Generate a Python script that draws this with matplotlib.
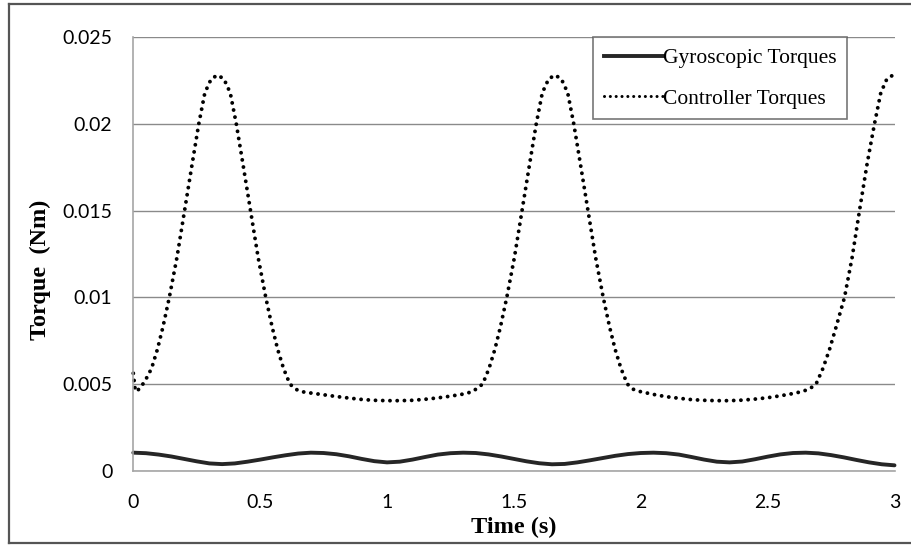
import matplotlib
matplotlib.use("Agg")
import matplotlib.pyplot as plt
from matplotlib.lines import Line2D

# ---- data ----
gyro_t = [0.00, 0.05, 0.10, 0.15, 0.20, 0.25, 0.30, 0.35, 0.40, 0.45,
          0.50, 0.55, 0.60, 0.65, 0.70, 0.75, 0.80, 0.85, 0.90, 0.95,
          1.00, 1.05, 1.10, 1.15, 1.20, 1.25, 1.30, 1.35, 1.40, 1.45,
          1.50, 1.55, 1.60, 1.65, 1.70, 1.75, 1.80, 1.85, 1.90, 1.95,
          2.00, 2.05, 2.10, 2.15, 2.20, 2.25, 2.30, 2.35, 2.40, 2.45,
          2.50, 2.55, 2.60, 2.65, 2.70, 2.75, 2.80, 2.85, 2.90, 2.95, 3.00]
gyro_v = [0.00104, 0.00101, 0.00093, 0.00082, 0.00068, 0.00054, 0.00042, 0.00038, 0.00042, 0.00052,
          0.00064, 0.00077, 0.00089, 0.00099, 0.00104, 0.00102, 0.00095, 0.00083, 0.00068, 0.00055,
          0.00048, 0.00052, 0.00064, 0.00079, 0.00093, 0.00101, 0.00104, 0.00102, 0.00094, 0.00082,
          0.00068, 0.00054, 0.00043, 0.00037, 0.00039, 0.00048, 0.00060, 0.00073, 0.00086, 0.00096,
          0.00102, 0.00104, 0.00101, 0.00093, 0.00079, 0.00064, 0.00052, 0.00048, 0.00053, 0.00066,
          0.00081, 0.00094, 0.00102, 0.00104, 0.00100, 0.00090, 0.00077, 0.00062, 0.00048, 0.00037, 0.00031]

ctrl_t = [0.000, 0.008, 0.025,
          0.047, 0.072, 0.095, 0.117, 0.142, 0.172, 0.202, 0.232, 0.258, 0.282, 0.307, 0.332,
          0.357, 0.382, 0.406, 0.432, 0.462, 0.492, 0.522, 0.547, 0.569, 0.592, 0.617,
          0.640, 0.663, 0.70, 0.75, 0.80, 0.85, 0.90, 0.95, 1.00, 1.05, 1.10, 1.15, 1.20,
          1.25, 1.30, 1.335, 1.355,
          1.377, 1.402, 1.425, 1.447, 1.472, 1.502, 1.532, 1.562, 1.588, 1.612, 1.637, 1.662,
          1.687, 1.712, 1.736, 1.762, 1.792, 1.822, 1.852, 1.877, 1.899, 1.922, 1.947,
          1.970, 1.993, 2.05, 2.10, 2.15, 2.20, 2.25, 2.30, 2.35, 2.40, 2.45, 2.50, 2.55,
          2.60, 2.64, 2.668,
          2.691, 2.718, 2.744, 2.770, 2.803, 2.833, 2.862, 2.892, 2.921, 2.946, 2.970, 2.994, 3.000]
ctrl_v = [0.00562, 0.00458, 0.00472,
          0.00520, 0.0059, 0.0070, 0.0083, 0.0100, 0.0123, 0.0150, 0.0177, 0.0200, 0.0218, 0.0226, 0.02282,
          0.0226, 0.0218, 0.0200, 0.0177, 0.0150, 0.0123, 0.0100, 0.0083, 0.0070, 0.0059, 0.0050,
          0.00470, 0.00456, 0.00448, 0.00438, 0.00428, 0.00419, 0.00411, 0.00406, 0.00404, 0.00404, 0.00406, 0.00412, 0.00420,
          0.00430, 0.00442, 0.00455, 0.00475,
          0.0050, 0.0059, 0.0070, 0.0083, 0.0100, 0.0123, 0.0150, 0.0177, 0.0200, 0.0218, 0.0226, 0.02282,
          0.0226, 0.0218, 0.0200, 0.0177, 0.0150, 0.0123, 0.0100, 0.0083, 0.0070, 0.0059, 0.0050,
          0.00470, 0.00458, 0.00440, 0.00427, 0.00418, 0.00410, 0.00406, 0.00404, 0.00404, 0.00407, 0.00413, 0.00421, 0.00432,
          0.00445, 0.00458, 0.00475,
          0.0050, 0.0059, 0.0070, 0.0083, 0.0100, 0.0123, 0.0150, 0.0177, 0.0200, 0.0218, 0.0226, 0.02282, 0.0228]

x_ticks = [0, 0.5, 1, 1.5, 2, 2.5, 3]
x_tick_labels = ["0", "0.5", "1", "1.5", "2", "2.5", "3"]
y_ticks = [0, 0.005, 0.01, 0.015, 0.02, 0.025]
y_tick_labels = ["0", "0.005", "0.01", "0.015", "0.02", "0.025"]
series_names = ["Gyroscopic Torques", "Controller Torques"]

# ---- figure ----
fig = plt.figure(figsize=(9.12, 5.45), dpi=100)
ax = fig.add_axes([133.3 / 912, 1 - 470.7 / 545, (894.5 - 133.3) / 912, (470.7 - 37.3) / 545])

grid_c = "#8a8a8a"
ax.set_xlim(0, 3)
ax.set_ylim(0, 0.025)
ax.set_yticks(y_ticks)
ax.set_yticklabels(y_tick_labels)
ax.set_xticks(x_ticks)
ax.set_xticklabels(x_tick_labels)
ax.yaxis.grid(True, color=grid_c, linewidth=1.0)
ax.set_axisbelow(True)
for s in ["top", "right"]:
    ax.spines[s].set_visible(False)
for s in ["left", "bottom"]:
    ax.spines[s].set_color("#a6a6a6")
    ax.spines[s].set_linewidth(1.2)
ax.tick_params(axis="both", length=0, labelsize=14, colors="black")
ax.tick_params(axis="x", pad=17)
ax.tick_params(axis="y", pad=15)
for lab in ax.get_xticklabels() + ax.get_yticklabels():
    lab.set_family("Lato")

ax.plot(gyro_t, gyro_v, color="#262626", linewidth=2.8, solid_capstyle="round",
        label=series_names[0], clip_on=False)
ax.plot(ctrl_t, ctrl_v, color="black", linewidth=2.8, linestyle=(0, (0.01, 1.85)),
        dash_capstyle="round", label=series_names[1], clip_on=False)

ax.set_xlabel("Time (s)", family="Liberation Serif", fontweight="bold", fontsize=17.5, labelpad=4)
ax.set_ylabel("Torque  (Nm)", family="Liberation Serif", fontweight="bold", fontsize=17.5)
ax.yaxis.set_label_coords(-0.108, 0.463)

handles = [Line2D([], [], color="#262626", linewidth=2.8),
           Line2D([], [], color="black", linewidth=2.2, linestyle=(0, (0.01, 1.9)), dash_capstyle="round")]
leg = ax.legend(handles, series_names, loc="upper left",
                bbox_to_anchor=((593 - 133.3) / (894.5 - 133.3), 1.0),
                prop={"family": "Liberation Serif", "size": 15.5},
                frameon=True, fancybox=False, borderpad=0.5, handlelength=2.75,
                handletextpad=0.0, labelspacing=0.95, borderaxespad=0.0)
leg.get_frame().set_edgecolor("#555555")
leg.get_frame().set_linewidth(1.2)

# outer border (right side lies beyond the image)
border_c = "#555555"
fig.add_artist(Line2D([9.5 / 912, 1.0], [1 - 3.5 / 545, 1 - 3.5 / 545], color=border_c, linewidth=1.6))
fig.add_artist(Line2D([9.5 / 912, 9.5 / 912], [1 - 3.5 / 545, 1 - 543 / 545], color=border_c, linewidth=1.6))
fig.add_artist(Line2D([9.5 / 912, 1.0], [1 - 543 / 545, 1 - 543 / 545], color=border_c, linewidth=1.6))

fig.savefig("out.png", dpi=100, facecolor="white")
